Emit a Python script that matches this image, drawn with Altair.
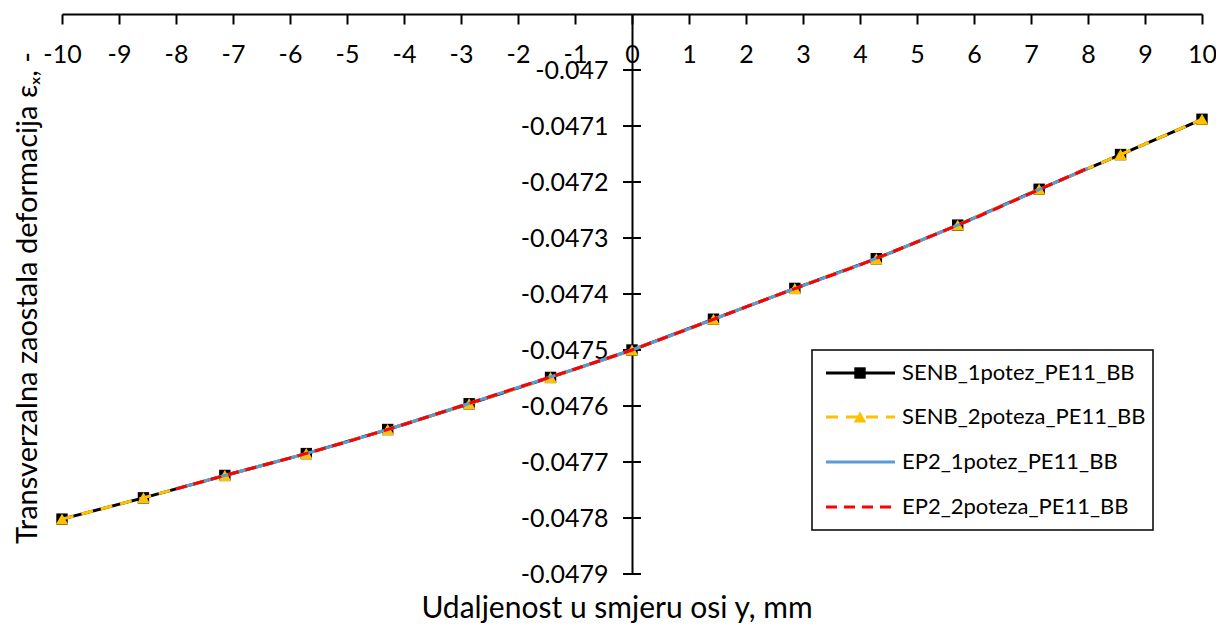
import altair as alt
import pandas as pd

# ---- data ----
x_senb = [-10, -8.571, -7.143, -5.714, -4.286, -2.857, -1.429, 0,
          1.429, 2.857, 4.286, 5.714, 7.143, 8.571, 10]
senb_1potez = [-0.047802, -0.047764, -0.047724, -0.047685, -0.047642, -0.047596,
               -0.047549, -0.047500, -0.047445, -0.047390, -0.047337, -0.047277,
               -0.047213, -0.047151, -0.047088]
senb_2poteza = [-0.047802, -0.047764, -0.047724, -0.047685, -0.047642, -0.047596,
                -0.047549, -0.047500, -0.047445, -0.047390, -0.047337, -0.047277,
                -0.047213, -0.047151, -0.047088]
x_ep2 = [-8, -7, -6, -5, -4, -3, -2, -1, 0, 1, 2, 3, 4, 5, 6, 7, 8]
ep2_1potez = [-0.047748, -0.047720, -0.047693, -0.047664, -0.047633, -0.047600,
              -0.047567, -0.047534, -0.047500, -0.047462, -0.047423, -0.047385,
              -0.047348, -0.047307, -0.047265, -0.047220, -0.047175]
ep2_2poteza = [-0.047748, -0.047720, -0.047693, -0.047664, -0.047633, -0.047600,
               -0.047567, -0.047534, -0.047500, -0.047462, -0.047423, -0.047385,
               -0.047348, -0.047307, -0.047265, -0.047220, -0.047175]

series_names = ["SENB_1potez_PE11_BB", "SENB_2poteza_PE11_BB",
                "EP2_1potez_PE11_BB", "EP2_2poteza_PE11_BB"]
x_ticks = [-10, -9, -8, -7, -6, -5, -4, -3, -2, -1, 0, 1, 2, 3, 4, 5, 6, 7, 8, 9, 10]
y_ticks = [-0.0479, -0.0478, -0.0477, -0.0476, -0.0475, -0.0474, -0.0473,
           -0.0472, -0.0471, -0.047]
x_title = "Udaljenost u smjeru osi y, mm"
y_title = "Transverzalna zaostala deformacija εₓ, -"

FONT = "Lato"
W, H = 1140, 560

xs = alt.Scale(domain=[-10, 10], nice=False, zero=False)
ys = alt.Scale(domain=[-0.0479, -0.0469], nice=False, zero=False)

df_s1 = pd.DataFrame({"x": x_senb, "y": senb_1potez})
df_s2 = pd.DataFrame({"x": x_senb, "y": senb_2poteza})
df_e1 = pd.DataFrame({"x": x_ep2, "y": ep2_1potez})
df_e2 = pd.DataFrame({"x": x_ep2, "y": ep2_2poteza})
df_ticks = pd.DataFrame({"x": [0] * len(y_ticks), "y": y_ticks})

x_axis = alt.Axis(orient="bottom", offset=-H, values=x_ticks, title=None,
                  grid=False, domainColor="black", domainWidth=2,
                  tickColor="black", tickWidth=2, tickSize=10,
                  labelExpr="'' + datum.value",
                  labelFont=FONT, labelFontSize=25, labelColor="black",
                  labelPadding=18, labelFlush=False)
y_axis = alt.Axis(orient="left", offset=-W / 2, values=y_ticks, title=None,
                  grid=False, domainColor="black", domainWidth=2,
                  ticks=False, labelExpr="'' + datum.value",
                  labelFont=FONT, labelFontSize=25, labelColor="black",
                  labelPadding=24)

base_axes = alt.Chart(df_s1).mark_line(strokeWidth=3, color="black").encode(
    x=alt.X("x:Q", scale=xs, axis=x_axis),
    y=alt.Y("y:Q", scale=ys, axis=y_axis),
)

def enc(c):
    return c.encode(x=alt.X("x:Q", scale=xs), y=alt.Y("y:Q", scale=ys))

y_cross_ticks = enc(alt.Chart(df_ticks).mark_tick(
    orient="horizontal", size=18, thickness=2, color="black", opacity=1))

s1_pts = enc(alt.Chart(df_s1).mark_point(shape="square", filled=True, size=130,
                                         color="black", opacity=1))
s2_line = enc(alt.Chart(df_s2).mark_line(strokeWidth=3, color="#FFC000",
                                         strokeDash=[12, 8]))
s2_pts = enc(alt.Chart(df_s2).mark_point(shape="triangle-up", filled=True, size=160,
                                         color="#FFC000", opacity=1))
e1_line = enc(alt.Chart(df_e1).mark_line(strokeWidth=3, color="#5B9BD5"))
e2_line = enc(alt.Chart(df_e2).mark_line(strokeWidth=3, color="#FF0000",
                                         strokeDash=[11, 7]))

# ---- titles ----
xt = alt.Chart(pd.DataFrame({"t": [x_title]})).mark_text(
    font=FONT, fontSize=30, color="black", align="center", baseline="alphabetic"
).encode(text="t:N", x=alt.value(555), y=alt.value(604))
yt = alt.Chart(pd.DataFrame({"t": [y_title]})).mark_text(
    font=FONT, fontSize=29, color="black", align="center", baseline="middle", angle=270
).encode(text="t:N", x=alt.value(-34), y=alt.value(284))

# ---- legend ----
lx0, lx1, ly0, ly1 = 750, 1091, 336, 516
rows = [359, 403, 448, 493]
leg_box = alt.Chart(pd.DataFrame({"a": [0]})).mark_rect(
    fill="white", stroke="black", strokeWidth=1.5
).encode(x=alt.value(lx0), x2=alt.value(lx1), y=alt.value(ly0), y2=alt.value(ly1))

leg_layers = [leg_box]
styles = [
    dict(color="black", dash=None, shape="square", size=130),
    dict(color="#FFC000", dash=[12, 8], shape="triangle-up", size=160),
    dict(color="#5B9BD5", dash=None, shape=None, size=0),
    dict(color="#FF0000", dash=[11, 7], shape=None, size=0),
]
for name, ry, st in zip(series_names, rows, styles):
    one = pd.DataFrame({"t": [name]})
    rule_kw = dict(color=st["color"], strokeWidth=3)
    if st["dash"]:
        rule_kw["strokeDash"] = st["dash"]
    leg_layers.append(alt.Chart(one).mark_rule(**rule_kw).encode(
        x=alt.value(764), x2=alt.value(833), y=alt.value(ry)))
    if st["shape"]:
        leg_layers.append(alt.Chart(one).mark_point(
            shape=st["shape"], filled=True, size=st["size"], color=st["color"], opacity=1
        ).encode(x=alt.value(798), y=alt.value(ry)))
    leg_layers.append(alt.Chart(one).mark_text(
        font=FONT, fontSize=22, color="black", align="left", baseline="middle"
    ).encode(text="t:N", x=alt.value(840), y=alt.value(ry)))

chart = alt.layer(
    base_axes, y_cross_ticks, s1_pts, s2_line, s2_pts, e1_line, e2_line,
    xt, yt, *leg_layers
).properties(
    width=W, height=H,
    autosize=alt.AutoSizeParams(type="none"),
    padding={"left": 54, "top": 6, "right": 14, "bottom": 50},
    background="white",
).configure_view(stroke=None)

chart.save("out.html", embed_options={"renderer": "svg", "actions": False})
